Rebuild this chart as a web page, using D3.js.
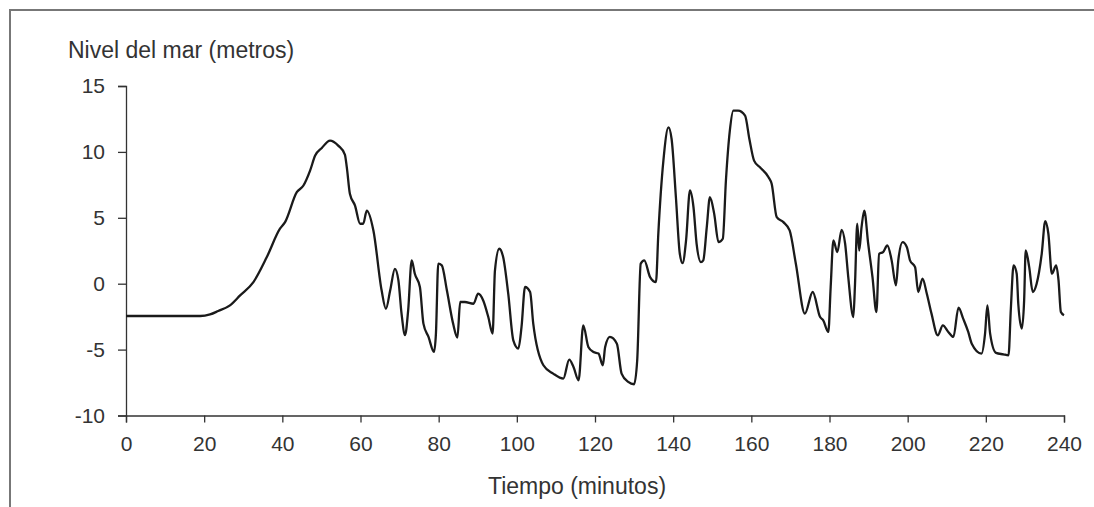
<!DOCTYPE html>
<html>
<head>
<meta charset="utf-8">
<script src="https://cdn.jsdelivr.net/npm/d3@7"></script>
<style>
  body { margin: 0; background: #fff; }
  svg { display: block; }
  .tick text { font-family: "Liberation Sans", Arial, sans-serif; font-size: 21px; fill: #333; }
</style>
</head>
<body>
<div id="graph"></div>
<script>
// tiempo (minutos) y nivel del mar (metros)
var tiempo = [0, 19, 21.5, 23.6, 26.6, 29.2, 32.6, 36, 39.4, 40.7, 43.7, 45.4, 47.1, 48.4, 50.1, 52.2, 54.3, 56, 56.5, 57.3,
  58.6, 59.9, 60.7, 61.6, 63.3, 65.4, 66.5, 67.6, 68.8, 69.7, 70.5, 71.4, 72.2, 73.1, 73.9, 75.2, 76.1, 77.4, 78.8, 79.3,
  79.9, 80.8, 82.1, 83.7, 84.8, 85.5, 86.7, 88.9, 90.1, 91.4, 92.7, 93.8, 94.4, 95.5, 96.5, 97.8, 99.1, 100.4, 101.2, 102.1,
  103.4, 104.2, 106.8, 109.3, 111.9, 113.4, 114.5, 115.8, 117, 118.3, 119.6, 120.9, 122, 122.6, 123.8, 125.6, 126.8, 128.5, 130, 130.8,
  131.7, 132.6, 134.1, 135.6, 136.2, 137.5, 138.8, 139.6, 140.7, 141.7, 142.4, 143.3, 144.3, 145.2, 146, 147.1, 147.7, 148.6, 149.4, 150.5,
  151.6, 152.7, 153.5, 154.5, 155.4, 156.6, 158.4, 159.5, 160.7, 162.2, 164.4, 165.2, 166.5, 168.2, 169.8, 171.4, 173.7, 175.7, 177.6, 178.4,
  179.7, 180.3, 181, 182, 183.1, 184, 184.8, 186.1, 186.5, 187.1, 187.6, 188.2, 188.9, 189.9, 191, 192, 192.7, 193.7, 194.8, 195.9,
  197, 197.6, 198.7, 199.8, 200.6, 201.9, 202.7, 203.8, 204.9, 206.1, 207.7, 209, 210.4, 211.7, 213, 214.2, 215.5, 216.4, 218.9, 219.8,
  220.4, 221.1, 222.6, 224.5, 225.8, 226.4, 227.1, 227.9, 228.3, 229.2, 229.8, 230.2, 231.1, 232, 233, 234.3, 235.2, 236, 236.9, 238,
  238.6, 239.2, 240];
var nivel = [-2.45, -2.45, -2.33, -2.07, -1.64, -0.89, 0.12, 2.0, 4.17, 4.67, 6.94, 7.45, 8.58, 9.72, 10.3, 10.86, 10.48, 9.8, 8.83, 6.8,
  5.93, 4.55, 4.55, 5.55, 4.04, -0.5, -1.9, -0.5, 1.13, 0.25, -2.27, -3.9, -2.0, 1.77, 0.75, -0.25, -3.03, -4.04, -5.18, -3.79,
  1.52, 1.39, -0.5, -3.03, -4.09, -1.39, -1.39, -1.52, -0.76, -1.27, -2.53, -3.79, 1.0, 2.65, 2.02, -0.76, -4.3, -4.92, -3.28, -0.25,
  -0.63, -3.03, -6.19, -6.82, -7.2, -5.76, -6.32, -7.33, -3.16, -4.8, -5.18, -5.3, -6.19, -4.8, -4.04, -4.55, -6.82, -7.45, -7.63, -5.81,
  1.52, 1.77, 0.5, 0.12, 3.79, 9.34, 11.86, 10.98, 6.56, 2.27, 1.56, 3.28, 7.07, 5.8, 3.03, 1.64, 1.77, 4.29, 6.56, 5.3,
  3.15, 3.41, 7.83, 11.61, 13.13, 13.13, 12.75, 10.98, 9.34, 8.83, 8.08, 7.58, 5.05, 4.67, 4.04, 1.5, -2.27, -0.63, -2.53, -2.78,
  -3.66, -0.25, 3.28, 2.4, 4.09, 3.03, 0.5, -2.53, -0.25, 4.55, 2.52, 4.29, 5.55, 3.03, 0.5, -2.15, 2.27, 2.4, 2.9, 1.77,
  -0.13, 1.77, 3.15, 2.77, 1.77, 1.26, -0.63, 0.38, -0.76, -2.27, -3.92, -3.16, -3.66, -4.04, -1.82, -2.65, -3.66, -4.55, -5.3, -3.79,
  -1.64, -3.79, -5.25, -5.36, -5.43, -1.9, 1.39, 0.76, -1.52, -3.41, -1.27, 2.52, 1.26, -0.63, 0, 2.27, 4.74, 3.79, 0.76, 1.39,
  0.25, -2.15, -2.4];
var xTicks = [0, 20, 40, 60, 80, 100, 120, 140, 160, 180, 200, 220, 240];
var yTicks = [-10, -5, 0, 5, 10, 15];

var width = 1094;
var height = 507;

var svg = d3.select('#graph')
    .append('svg')
    .attr('width', width)
    .attr('height', height);

// marco
svg.append("path")
    .attr("d", "M10,507 L10,10 L1094,10")
    .attr("fill", "none")
    .attr("stroke", "#777")
    .attr("stroke-width", 2);

var scaleX = d3.scaleLinear().domain([0, 240]).range([126, 1064]);
var scaleY = d3.scaleLinear().domain([-10, 15]).range([415.5, 86]);

var xAxis = d3.axisBottom(scaleX).tickValues(xTicks).tickSizeOuter(0).tickSize(7).tickPadding(14)
    .tickFormat(function(d) { return String(d); });
var yAxis = d3.axisLeft(scaleY).tickValues(yTicks).tickSizeOuter(0).tickSize(8).tickPadding(13)
    .tickFormat(function(d) { return String(d); });

var gx = svg.append("g").attr("transform", "translate(0," + scaleY(-10) + ")").call(xAxis);
var gy = svg.append("g").attr("transform", "translate(" + scaleX(0) + ",0)").call(yAxis);
[gx, gy].forEach(function(g) {
    g.selectAll("path, line").attr("stroke", "#333").attr("stroke-width", 1.3);
});

var data = tiempo.map(function(t, i) { return {t: t, v: nivel[i]}; });

svg.append("path")
    .datum(data)
    .attr("fill", "none")
    .attr("stroke", "#1a1a1a")
    .attr("stroke-width", 2.3)
    .attr("stroke-linejoin", "round")
    .attr("d", d3.line()
        .curve(d3.curveMonotoneX)
        .x(function(d) { return scaleX(d.t); })
        .y(function(d) { return scaleY(d.v); }));

svg.append("text")
    .attr("x", 68)
    .attr("y", 58)
    .attr("font-family", "Liberation Sans, Arial, sans-serif")
    .attr("font-size", 23)
    .attr("fill", "#333")
    .text("Nivel del mar (metros)");

svg.append("text")
    .attr("x", 577)
    .attr("y", 494)
    .attr("text-anchor", "middle")
    .attr("font-family", "Liberation Sans, Arial, sans-serif")
    .attr("font-size", 23)
    .attr("fill", "#333")
    .text("Tiempo (minutos)");
</script>
</body>
</html>
